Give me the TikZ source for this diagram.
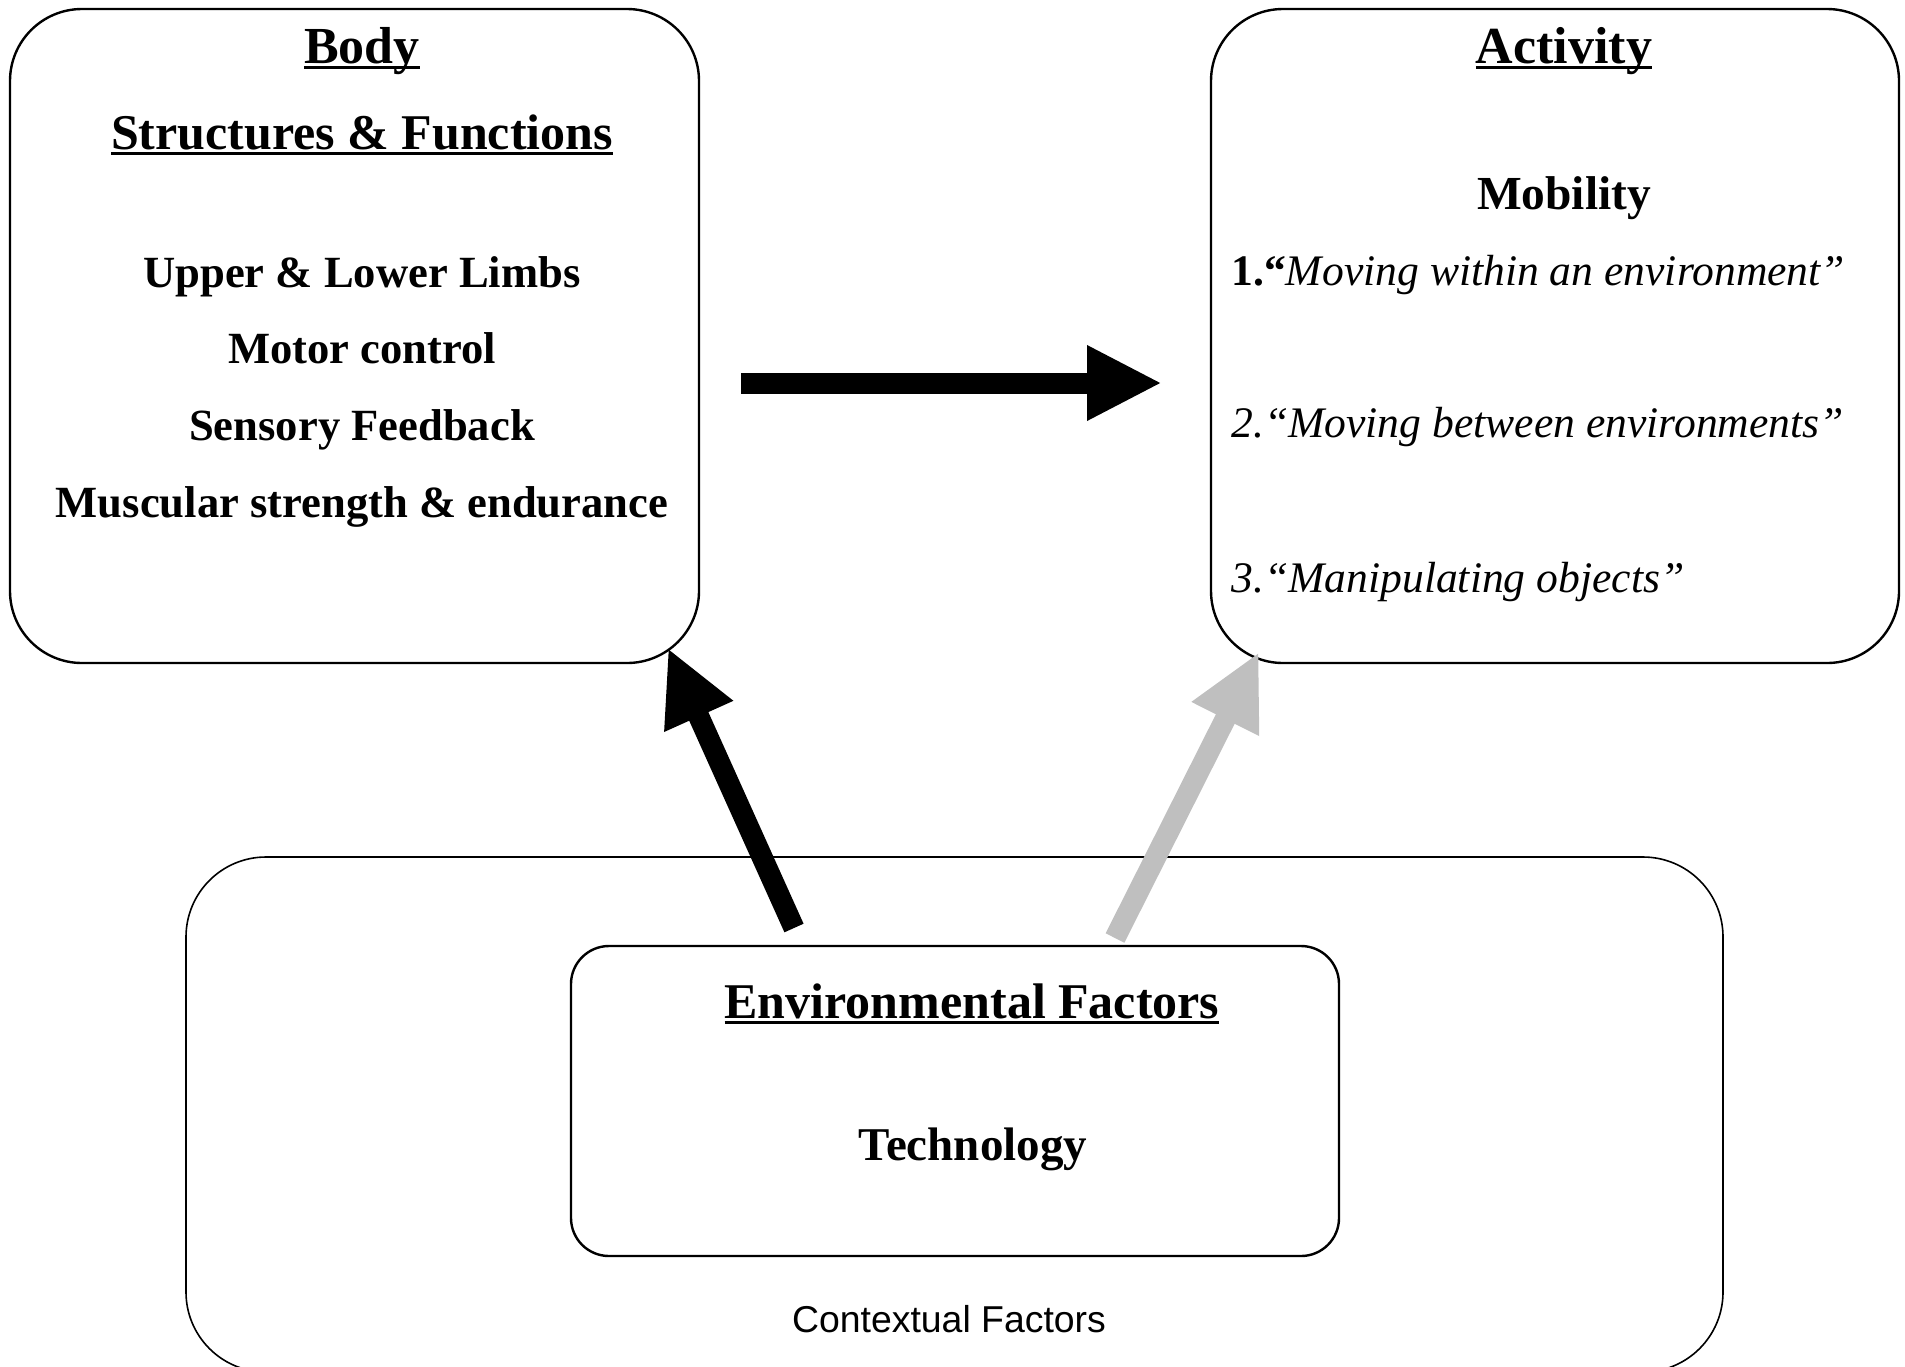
\documentclass[tikz,border=0pt]{standalone}
\usepackage{fontspec}
\setmainfont{Liberation Serif}
\setsansfont{Liberation Sans}
\usetikzlibrary{arrows.meta}
\usepackage{xcolor}
\definecolor{arrowgray}{HTML}{BFBFBF}
\newcommand{\ulined}[1]{\setbox0\hbox{#1}\rlap{\rule[-3pt]{\wd0}{1.3pt}}\box0}
\tikzset{%
	roundbox/.style={
		draw,
		line width=1.2pt,
		rounded corners=36pt
	},
	boxline/.style={
		anchor=base,
		inner sep=0pt,
		font=\fontsize{22.3}{27}\selectfont\bfseries
	},
	bigline/.style={
		boxline,
		font=\fontsize{25}{30}\selectfont\bfseries
	},
	topline/.style={
		boxline,
		font=\fontsize{26}{31}\selectfont\bfseries
	},
	itemline/.style={
		anchor=base west,
		inner sep=0pt,
		font=\fontsize{21.8}{26}\selectfont
	},
}

\begin{document}
\begin{tikzpicture}[
				x=0.5pt, y=-0.5pt,
				bigarrow/.style={line width=10.5pt, -{Triangle[length=37.5pt, width=35pt]}}
				]
				\useasboundingbox (0,0) rectangle (1905,1366);
				
				% Boxes
				\node[roundbox, minimum width=344.5pt, minimum height=327pt] (body) at (354.5,336) {};
				\node[roundbox, minimum width=344pt, minimum height=327pt] (activity) at (1555,336) {};
				\node[roundbox, line width=0.8pt, rounded corners=40pt, minimum width=768.5pt, minimum height=257.5pt] (context) at (954.5,1114.5) {};
				\node[roundbox, rounded corners=19pt, minimum width=384pt, minimum height=155pt] (env) at (955,1101) {};
				
				% Body structures & functions
				\node[topline] (bodytitle) at (362,63) {\ulined{Body}};
				\node[bigline] (structtitle) at (362,149) {\ulined{Structures \& Functions}};
				\foreach \txt [count=\i] in {Upper \& Lower Limbs, Motor control, Sensory Feedback, Muscular strength \& endurance}
				\node[boxline] (limb\i) at (362,{287+76.7*(\i-1)}) {\txt};
				
				% Activity
				\node[topline] (acttitle) at (1564,63) {\ulined{Activity}};
				\node[boxline, font=\fontsize{23.7}{28}\selectfont\bfseries] (mobility) at (1564,209) {Mobility};
				\node[itemline] (move1) at (1231,285) {{\bfseries 1.“}\textit{Moving within an environment”}};
				\node[itemline] (move2) at (1231,437) {\textit{2.“Moving between environments”}};
				\node[itemline] (move3) at (1231,592) {\textit{3.“Manipulating objects”}};
				
				% Environment
				\node[bigline] (envtitle) at (972,1018) {\ulined{Environmental Factors}};
				\node[boxline, font=\fontsize{23.5}{28}\selectfont\bfseries] (tech) at (973,1160) {Technology};
				\node[anchor=base, inner sep=0pt, font=\fontsize{18.7}{22}\selectfont\sffamily] (ctxtitle) at (949,1332) {Contextual Factors};
				
				% Arrows
				\coordinate (bodyout) at (741,383);
				\coordinate (actin) at (1162,383);
				\coordinate (envleft) at (794,928);
				\coordinate (bodyin) at (668,648);
				\coordinate (envright) at (1115,938);
				\coordinate (actlow) at (1259,652);
				\draw[bigarrow] (bodyout) -- (actin);
				\draw[bigarrow] (envleft) -- (bodyin);
				\draw[bigarrow, arrowgray] (envright) -- (actlow);
				
			\end{tikzpicture}
\end{document}
